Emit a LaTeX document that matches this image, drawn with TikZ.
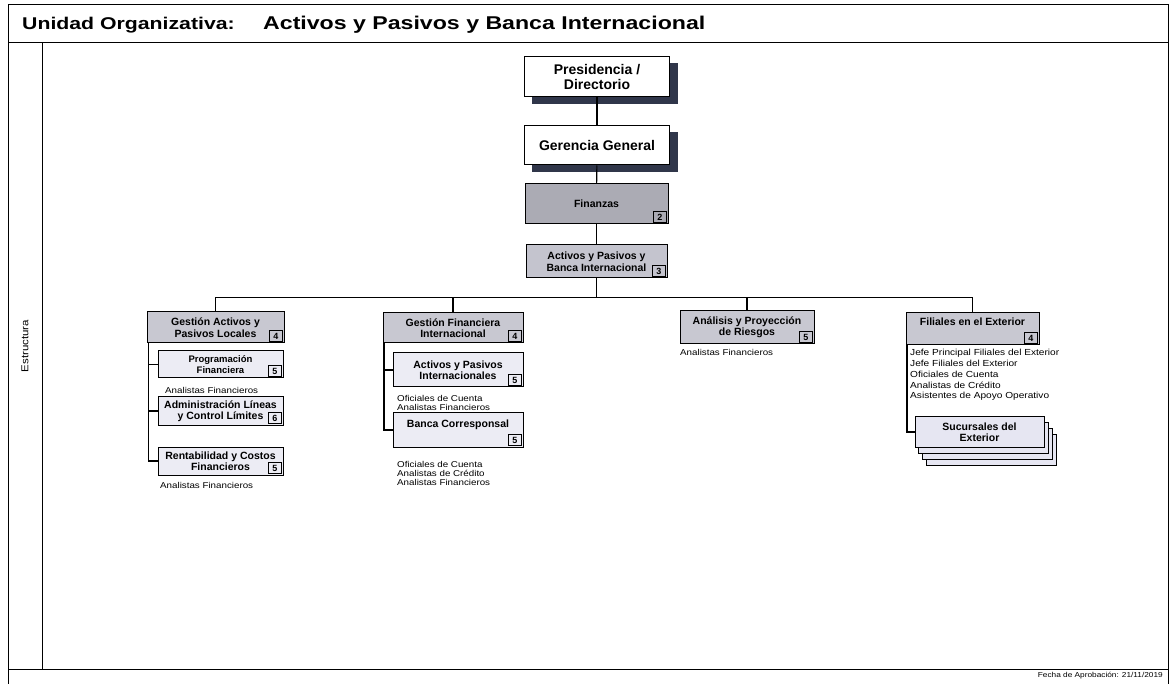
\documentclass[tikz,border=0pt]{standalone}
\usepackage{fontspec}
\setmainfont{Liberation Sans}
\newfontfamily\headfont[FakeStretch=1.25]{Liberation Sans}
\newfontfamily\labfont[FakeStretch=1.15]{Liberation Sans}
\usetikzlibrary{calc,backgrounds}
\definecolor{shadowc}{HTML}{30364A}
\definecolor{fincol}{HTML}{ABABB4}
\definecolor{apbcol}{HTML}{C4C4CE}
\definecolor{headcol}{HTML}{C8C8D1}
\definecolor{subcol}{HTML}{ECECF4}
\definecolor{succol}{HTML}{E6E6F2}
\tikzset{
  frame/.style={line width=1pt, draw=black},
  orgbox/.style={draw, line width=1pt, align=center, inner sep=0pt},
  bigtxt/.style={font=\bfseries\fontsize{14}{15}\selectfont},
  midtxt/.style={font=\bfseries\fontsize{10.5}{11.5}\selectfont},
  smalltxt/.style={font=\bfseries\fontsize{9.5}{10.5}\selectfont},
  num/.style={draw, line width=0.8pt, inner sep=0pt, minimum width=13.5pt, minimum height=11pt, font=\bfseries\fontsize{9}{9}\selectfont, anchor=south east},
  lab/.style={inner sep=0pt, align=left, anchor=west, font=\labfont\fontsize{8.5}{9}\selectfont},
  conn/.style={line width=1.1pt, draw=black},
}
\begin{document}
\begin{tikzpicture}[x=1pt,y=-1pt]
\useasboundingbox (0,0) rectangle (1170,684);
% frame
\draw[frame] (8,684) -- (8,5) -- (1168,5) -- (1168,684);
\draw[frame] (8,43) -- (1168,43);
\draw[frame] (8,669) -- (1168,669);
\draw[frame] (42,43) -- (42,669);
\node[anchor=west, inner sep=0pt, font=\headfont\bfseries\fontsize{17}{18}\selectfont] (h1) at (22,25) {Unidad Organizativa:};
\node[anchor=west, inner sep=0pt, font=\headfont\bfseries\fontsize{18.5}{19}\selectfont] (h2) at (263,25) {Activos y Pasivos y Banca Internacional};
\node[rotate=90, inner sep=0pt, font=\labfont\fontsize{10}{10}\selectfont] (est) at (25,346) {Estructura};
\node[anchor=east, inner sep=0pt, font=\labfont\fontsize{7.2}{7.5}\selectfont] (fecha) at (1163,676) {Fecha de Aprobación: 21/11/2019};

% top chain
\node[orgbox, fill=white, bigtxt, minimum width=145pt, minimum height=40pt] (pres) at (597,77) {Presidencia /\\Directorio};
\node[orgbox, fill=white, bigtxt, minimum width=145pt, minimum height=39pt] (ger) at (597,145.5) {Gerencia General};
\node[orgbox, fill=fincol, midtxt, minimum width=143pt, minimum height=40pt] (fin) at (596.5,204) {Finanzas};
\node[num] (finn) at ($(fin.south east)+(-1.5,-1.5)$) {2};
\node[orgbox, fill=apbcol, midtxt, minimum width=141pt, minimum height=33pt] (apb) at (596.5,261.5) {Activos y Pasivos y\\Banca Internacional};
\node[num] (apbn) at ($(apb.south east)+(-1.5,-1.5)$) {3};

\begin{scope}[on background layer]
\fill[shadowc] ($(pres.north west)+(8,7)$) rectangle ($(pres.south east)+(8,7)$);
\fill[shadowc] ($(ger.north west)+(8,7)$) rectangle ($(ger.south east)+(8,7)$);
\end{scope}

% column heads
\node[orgbox, fill=headcol, midtxt, minimum width=137pt, minimum height=31pt] (c1) at (215.5,327.5) {Gestión Activos y\\Pasivos Locales};
\node[num] (c1n) at ($(c1.south east)+(-1.5,-1.5)$) {4};
\node[orgbox, fill=headcol, midtxt, minimum width=140pt, minimum height=30pt] (c2) at (453,328) {Gestión Financiera\\Internacional};
\node[num] (c2n) at ($(c2.south east)+(-1.5,-1.5)$) {4};
\node[orgbox, fill=headcol, midtxt, minimum width=134pt, minimum height=33pt] (c3) at (747,327.5) {Análisis y Proyección\\de Riesgos};
\node[num] (c3n) at ($(c3.south east)+(-1.5,-1.5)$) {5};
\node[orgbox, fill=headcol, midtxt, minimum width=133pt, minimum height=32pt, text depth=14pt] (c4) at (972.5,329) {Filiales en el Exterior};
\node[num] (c4n) at ($(c4.south east)+(-1.5,-1.5)$) {4};

% column 1 children
\node[orgbox, fill=subcol, smalltxt, minimum width=125pt, minimum height=27pt] (a1) at (220.5,364.5) {Programación\\Financiera};
\node[num] (a1n) at ($(a1.south east)+(-1.5,-1.5)$) {5};
\node[orgbox, fill=subcol, midtxt, minimum width=125pt, minimum height=28pt] (a2) at (220.5,411) {Administración Líneas\\y Control Límites};
\node[num] (a2n) at ($(a2.south east)+(-1.5,-1.5)$) {6};
\node[orgbox, fill=subcol, midtxt, minimum width=125pt, minimum height=28pt] (a3) at (220.5,461) {Rentabilidad y Costos\\Financieros};
\node[num] (a3n) at ($(a3.south east)+(-1.5,-1.5)$) {5};
\node[lab] (la1) at (165,390) {Analistas Financieros};
\node[lab] (la3) at (160,485) {Analistas Financieros};

% column 2 children
\node[orgbox, fill=subcol, midtxt, minimum width=130pt, minimum height=34pt] (b1) at (458,370) {Activos y Pasivos\\Internacionales};
\node[num] (b1n) at ($(b1.south east)+(-1.5,-1.5)$) {5};
\node[orgbox, fill=subcol, midtxt, minimum width=130pt, minimum height=34pt, text depth=12pt] (b2) at (458,430) {Banca Corresponsal};
\node[num] (b2n) at ($(b2.south east)+(-1.5,-1.5)$) {5};
\node[lab] (lb1) at (397,402.5) {Oficiales de Cuenta\\Analistas Financieros};
\node[lab] (lb2) at (397,473) {Oficiales de Cuenta\\Analistas de Crédito\\Analistas Financieros};

% column 3
\node[lab] (lc3) at (680,352) {Analistas Financieros};

% column 4
\node[lab, font=\labfont\fontsize{8.8}{10.75}\selectfont] (ld4) at (910,375) {Jefe Principal Filiales del Exterior\\Jefe Filiales del Exterior\\Oficiales de Cuenta\\Analistas de Crédito\\Asistentes de Apoyo Operativo};
\node[orgbox, fill=succol, midtxt, minimum width=129pt, minimum height=30pt] (suc) at (979.5,432) {Sucursales del\\Exterior};
\begin{scope}[on background layer]
\foreach \k in {3,2,1}{
  \filldraw[fill=succol, draw=black, line width=1pt] ($(suc.north west)+(4*\k,6*\k)$) rectangle ($(suc.south east)+(4*\k,6*\k)$);
}
\end{scope}

% connectors
\draw[conn] (pres) -- (ger);
\draw[conn] (ger) -- (fin);
\draw[conn] (fin) -- (apb);
\draw[conn] (apb.south) -- ++(0,19) coordinate (bus);
\draw[conn] (c1.north) |- (bus) -| (c4.north);
\draw[conn] (c2.north) |- (bus);
\draw[conn] (c3.north) |- (bus);
\coordinate (c1s) at ($(c1.south west)+(2,0)$);
\draw[conn] (c1s) |- (a1.west);
\draw[conn] (c1s) |- (a2.west);
\draw[conn] (c1s) |- (a3.west);
\coordinate (c2s) at ($(c2.south west)+(1.5,0)$);
\draw[conn] (c2s) |- (b1.west);
\draw[conn] (c2s) |- (b2.west);
\coordinate (c4s) at ($(c4.south west)+(1.5,0)$);
\draw[conn] (c4s) |- (suc.west);
\end{tikzpicture}
\end{document}
